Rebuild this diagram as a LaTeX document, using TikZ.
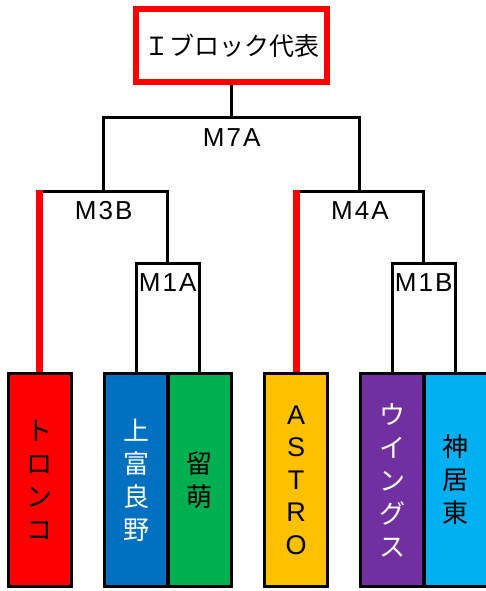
\documentclass[tikz,border=0pt]{standalone}
\usepackage{fontspec}
\setmainfont{Noto Sans CJK JP}
\newfontfamily\latin[LetterSpace=8]{Liberation Sans}
\usetikzlibrary{positioning}
\definecolor{tred}{HTML}{FF0000}
\definecolor{tblue}{HTML}{0070C0}
\definecolor{tgreen}{HTML}{00B050}
\definecolor{tyellow}{HTML}{FFC000}
\definecolor{tpurple}{HTML}{7030A0}
\definecolor{tcyan}{HTML}{00B0F0}
\tikzset{team/.style = {draw = black, line width = 3pt, minimum width = 63pt, minimum height = 213pt, inner sep = 0pt, align = center, font = \fontsize{26}{33}\selectfont}}
\tikzset{bracket/.style = {line width = 3pt}}
\tikzset{winner/.style = {draw = tred, line width = 7pt}}
\tikzset{matchlbl/.style = {inner sep = 0pt, font = \latin\fontsize{26}{26}\selectfont}}

\begin{document}
\begin{tikzpicture}[x = 1pt, y = -1pt]
\useasboundingbox (0,0) rectangle (485,591);
\node [draw = tred, line width = 6pt, minimum width = 191pt, minimum height = 73pt, font = \fontsize{25}{25}\selectfont] (rep) at (231.5,45.5) {Ｉブロック代表};
\node [team, fill = tred] (tronco) at (39.5,480) {ト\\ロ\\ン\\コ};
\node [team, fill = tblue, text = white] (kami) at (136,480) {上\\富\\良\\野};
\node [team, fill = tgreen] (rumoi) at (199.5,480) {留\\萌};
\node [team, fill = tyellow, font = \latin\fontsize{27}{32.5}\selectfont] (astro) at (296,480) {A\\S\\T\\R\\O};
\node [team, fill = tpurple, text = white] (wings) at (392,480) {ウ\\イ\\ン\\グ\\ス};
\node [team, fill = tcyan] (kamui) at (455.5,480) {神\\居\\東};
\coordinate (m1a) at (167.75,263);
\coordinate (m1b) at (423.75,263);
\coordinate (m3b) at (103.6,191);
\coordinate (m4a) at (359.9,191);
\coordinate (m7) at (231.75,118);
\draw [bracket] (kami.north) |- (m1a) -| (rumoi.north);
\draw [bracket] (wings.north) |- (m1b) -| (kamui.north);
\draw [bracket] (tronco.north) |- (m3b) -| (m1a);
\draw [bracket] (astro.north) |- (m4a) -| (m1b);
\draw [bracket] (m3b) |- (m7) -| (m4a);
\draw [bracket] (rep.south) -- (rep.south |- m7);
\draw [winner] (tronco.north) -- ([yshift = 1.5pt]tronco.north |- m3b);
\draw [winner] (astro.north) -- ([yshift = 1.5pt]astro.north |- m4a);
\node [matchlbl, below = 10pt of m7] (m7lbl) {M7A};
\node [matchlbl, below = 10pt of m3b] (m3blbl) {M3B};
\node [matchlbl, below = 10pt of m4a] (m4albl) {M4A};
\node [matchlbl, below = 10pt of m1a] (m1albl) {M1A};
\node [matchlbl, below = 10pt of m1b] (m1blbl) {M1B};
\end{tikzpicture}
\end{document}
